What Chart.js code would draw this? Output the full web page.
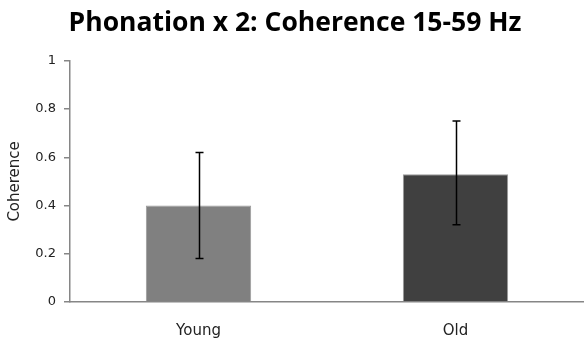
<!DOCTYPE html>
<html>
<head>
<meta charset="utf-8">
<script src="https://cdn.jsdelivr.net/npm/chart.js@4.4.0/dist/chart.umd.min.js"></script>
<style>
  html, body { margin: 0; padding: 0; background: #fff; }
  #wrap { width: 584px; height: 343px; }
</style>
</head>
<body>
<div id="wrap"><canvas id="chart" width="584" height="343"></canvas></div>
<script>
// values
const groups = ["Young", "Old"];
const coherence = [0.40, 0.53];
const errLow = [0.18, 0.32];
const errHigh = [0.62, 0.75];
const barColors = ["#808080", "#404040"];
const yTicks = [0, 0.2, 0.4, 0.6, 0.8, 1];

// error bars drawn with the chart's own scales
const errorBars = {
  id: "errorBars",
  afterDatasetsDraw(chart) {
    const { ctx, scales: { x, y } } = chart;
    ctx.save();
    ctx.strokeStyle = "#000";
    ctx.lineWidth = 1.5;
    groups.forEach((g, i) => {
      const cx = Math.round(x.getPixelForValue(i)) + 0.5;
      const top = y.getPixelForValue(errHigh[i]);
      const bot = y.getPixelForValue(errLow[i]);
      ctx.beginPath();
      ctx.moveTo(cx, top); ctx.lineTo(cx, bot);
      ctx.moveTo(cx - 4, top); ctx.lineTo(cx + 4, top);
      ctx.moveTo(cx - 4, bot); ctx.lineTo(cx + 4, bot);
      ctx.stroke();
    });
    ctx.restore();
  }
};

new Chart(document.getElementById("chart"), {
  type: "bar",
  data: {
    labels: groups,
    datasets: [{
      data: coherence,
      backgroundColor: barColors,
      borderColor: "#9a9a9a",
      borderWidth: 1,
      barPercentage: 0.41,
      categoryPercentage: 1
    }]
  },
  options: {
    responsive: false,
    animation: false,
    layout: { padding: { left: 6, right: 0, top: 4, bottom: 0 } },
    plugins: {
      legend: { display: false },
      tooltip: { enabled: false },
      title: {
        display: true,
        text: "Phonation x 2: Coherence 15-59 Hz",
        color: "#000",
        font: { family: "Open Sans", size: 26.5, weight: "bold" },
        padding: { top: 4, bottom: 21 }
      }
    },
    scales: {
      x: {
        grid: { display: false },
        border: { color: "#868686", width: 1.5 },
        ticks: { color: "#222", font: { family: "DejaVu Sans", size: 15 }, padding: 12 },
        afterFit(s) { s.height = 41; }
      },
      y: {
        min: 0, max: 1,
        afterBuildTicks(s) { s.ticks = yTicks.map(v => ({ value: v })); },
        grid: { drawOnChartArea: false, drawTicks: true, tickLength: 6, color: "#868686", lineWidth: 1.5 },
        border: { color: "#868686", width: 1.5 },
        ticks: { color: "#222", font: { family: "DejaVu Sans", size: 13 }, padding: 8, callback: v => String(v) },
        title: { display: true, text: "Coherence", color: "#222", font: { family: "DejaVu Sans", size: 15 }, padding: 0 },
        afterFit(s) { s.width = 64; }
      }
    }
  },
  plugins: [errorBars]
});
</script>
</body>
</html>
